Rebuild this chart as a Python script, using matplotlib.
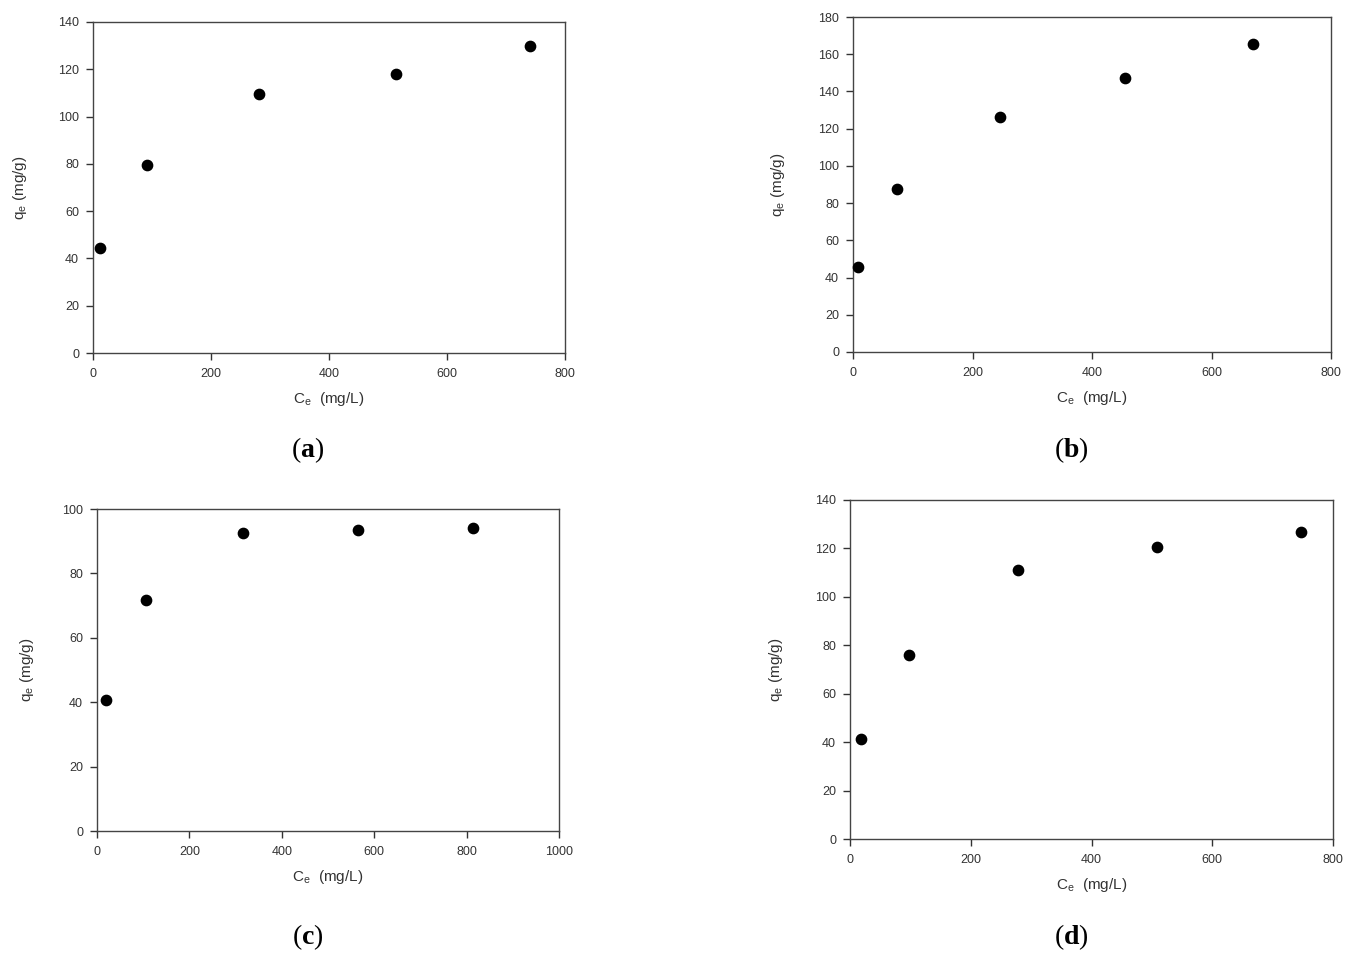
import matplotlib
matplotlib.use("Agg")
import matplotlib.pyplot as plt

plt.rcParams['font.family'] = ['Liberation Sans', 'DejaVu Sans']
plt.rcParams['mathtext.fontset'] = 'custom'
plt.rcParams['mathtext.rm'] = 'Liberation Serif'
plt.rcParams['mathtext.bf'] = 'Liberation Serif:bold'

# Data
ce_a = [12.3, 91.5, 281, 514, 740]
qe_a = [44.3, 79.6, 109.6, 117.8, 129.8]
ce_b = [8.3, 73.9, 246.7, 455, 670]
qe_b = [45.9, 87.8, 126.5, 147.2, 165.5]
ce_c = [19.1, 106, 315, 564, 814]
qe_c = [40.7, 71.6, 92.5, 93.4, 94.0]
ce_d = [17.6, 98.1, 278.6, 508.8, 747]
qe_d = [41.3, 76.1, 110.9, 120.4, 126.6]

panel_letters = ['a', 'b', 'c', 'd']
xmax = [800, 800, 1000, 800]
ymax = [140, 180, 100, 140]
xstep = [200, 200, 200, 200]
ystep = [20, 20, 20, 20]

W, H = 1357, 959
fig = plt.figure(figsize=(W / 100, H / 100), dpi=100)

# pixel boxes: left, right, top, bottom
boxes = [(93, 565, 22, 353), (853, 1331, 17, 352), (97, 559, 509, 831), (850, 1333, 500, 839)]
ylab_x = [20, 778, 27, 776]
panel_y = [450, 450, 937, 937]
panel_x = [308, 1071, 308, 1071]

data = [(ce_a, qe_a), (ce_b, qe_b), (ce_c, qe_c), (ce_d, qe_d)]
col = '#333333'
for i, ((x, y), (l, r, t, b)) in enumerate(zip(data, boxes)):
    ax = fig.add_axes([l / W, 1 - b / H, (r - l) / W, (b - t) / H])
    ax.scatter(x, y, s=55, color='black', zorder=3, clip_on=False)
    ax.set_xlim(0, xmax[i])
    ax.set_ylim(0, ymax[i])
    ax.set_xticks(range(0, xmax[i] + 1, xstep[i]))
    ax.set_yticks(range(0, ymax[i] + 1, ystep[i]))
    ax.tick_params(direction='out', length=5, width=1, colors=col, labelsize=9, pad=5)
    ax.tick_params(axis='x', pad=6)
    for s in ax.spines.values():
        s.set_color('#444444')
        s.set_linewidth(1.0)
    # labels
    ax.text(0.5, -(46) / (b - t), r'C$_\mathregular{e}$  (mg/L)', transform=ax.transAxes,
            ha='center', va='center', fontsize=11, color=col)
    fig.text(ylab_x[i] / W, 1 - ((t + b) / 2) / H, r'q$_\mathregular{e}$ (mg/g)',
             rotation=90, ha='center', va='center', fontsize=11, color=col)
    fig.text(panel_x[i] / W, 1 - panel_y[i] / H, r'($\mathbf{%s}$)' % panel_letters[i],
             ha='center', va='center', fontsize=20, family='Liberation Serif', color='black')

fig.savefig('out.png', dpi=100, facecolor='white')
